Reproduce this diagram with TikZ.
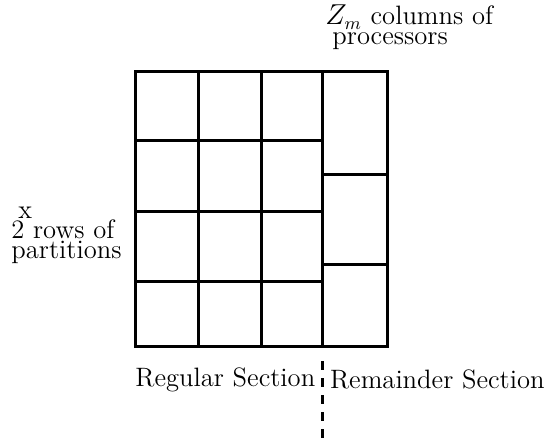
\documentclass[tikz,border=0pt]{standalone}
\usepackage{tikz}
\usetikzlibrary{positioning}

\begin{document}
\begin{tikzpicture}[
  x=0.5pt, y=-0.5pt,
  cell/.style={line width=1.5pt},
  divider/.style={line width=1.5pt, dash pattern=on 4.5pt off 4pt},
  lbl/.style={font=\fontsize{13.3}{10}\selectfont, inner sep=0pt, anchor=base west, align=left}
]
\useasboundingbox (0,0) rectangle (550,438);

% processor grid
\draw[cell] (135,72) rectangle (387,346);
\foreach \xx in {198,261,322} \draw[cell] (\xx,72) -- (\xx,346);
\foreach \yy in {141,211,281} \draw[cell] (135,\yy) -- (322,\yy);
\foreach \yy in {175,264} \draw[cell] (322,\yy) -- (387,\yy);

\coordinate (divtop) at (322,361);
\coordinate (divbot) at (322,438);
\draw[divider] (divtop) -- (divbot);

% base of a two-line label is its last line
\node[lbl] (cols) at (325,45) {$Z_m$ columns of\\\hspace{3.5pt}processors};
\node[lbl] (rows) at (11,258) {2\rlap{\kern-3pt\raisebox{10pt}{x}}\ rows of\\partitions};

\node[lbl] (regular) at (135,386) {Regular Section};
\node[lbl, right=7pt of regular.base east, anchor=base west, yshift=-1pt] (remainder) {Remainder Section};

\end{tikzpicture}
\end{document}
